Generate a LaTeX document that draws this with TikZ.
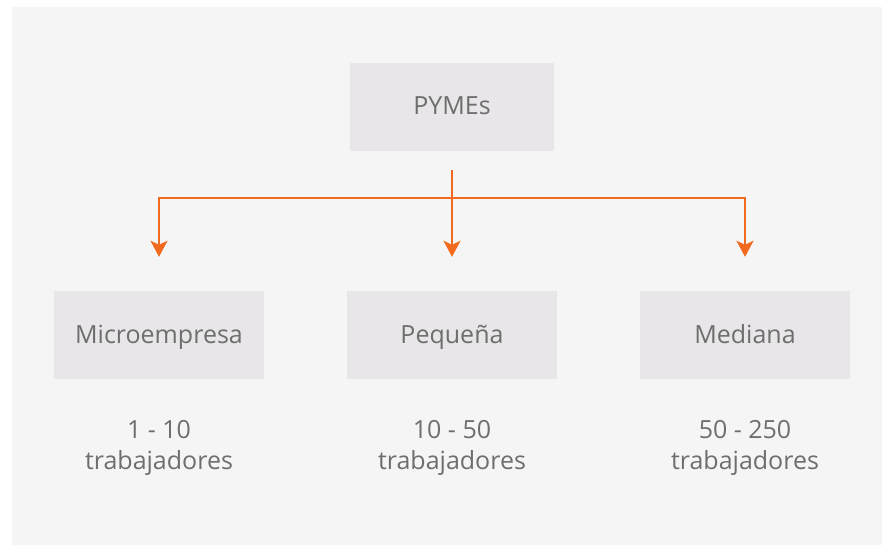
\documentclass[tikz,border=0pt]{standalone}
\usepackage{fontspec}
\setmainfont{Open Sans}
\usetikzlibrary{arrows.meta}

\definecolor{panelgray}{HTML}{F5F5F5}
\definecolor{boxgray}{HTML}{E8E6E8}
\definecolor{textgray}{HTML}{6E6E6E}
\definecolor{flowline}{HTML}{F26A1E}

\begin{document}
\begin{tikzpicture}[>={Stealth[length=16pt,width=17pt,inset=4pt]}, x=1pt, y=1pt]

        \def\boxw{210}          % width of the boxes
        \def\boxh{88}           % height of the boxes
        \def\colsep{293}        % horizontal distance between the columns
        \def\ybox{209}          % middle of the lower boxes
        \def\ytop{437}          % middle of the top box
        \def\ybranch{346}       % height of the horizontal branch
        \def\ynum{75}           % baseline of the last text line
        \tikzstyle{catbox}=[fill=boxgray, minimum width=\boxw pt, minimum height=\boxh pt, text=textgray, text height=18pt, text depth=2pt, font=\fontsize{25}{30}\selectfont]
        \tikzstyle{annot} = [align=center, text=textgray, anchor=base, font=\fontsize{25}{31}\selectfont]
        \tikzstyle{flow}=[->, draw=flowline, line width=2.6pt]

        % Background
            \useasboundingbox (0,0) rectangle (882,544);
            \fill[white] (0,0) rectangle (882,544);
            \fill[panelgray] (12,-1) rectangle (883,537);

        % Draw the top node
            \node[catbox, minimum width=204pt] (pymes) at (452,\ytop) {PYMEs};
            \coordinate (branch) at (452,\ybranch);

        % Draw the lower nodes with their number of workers
            \foreach \xn/\name/\range in {1/Microempresa/1 - 10, 2/Pequeña/10 - 50, 3/Mediana/50 - 250}{
                \node[catbox] (cat-\xn) at (\xn*\colsep-134,\ybox) {\name};
                \node[annot] (num-\xn) at (\xn*\colsep-134,\ynum) {\range\\trabajadores};
            }

        % Connect the top node with the lower nodes
            \draw[flow, shorten <=19pt, shorten >=34pt] (pymes) -- (cat-2);
            \draw[flow, shorten >=34pt] (branch) -| (cat-1);
            \draw[flow, shorten >=34pt] (branch) -| (cat-3);

\end{tikzpicture}
\end{document}
